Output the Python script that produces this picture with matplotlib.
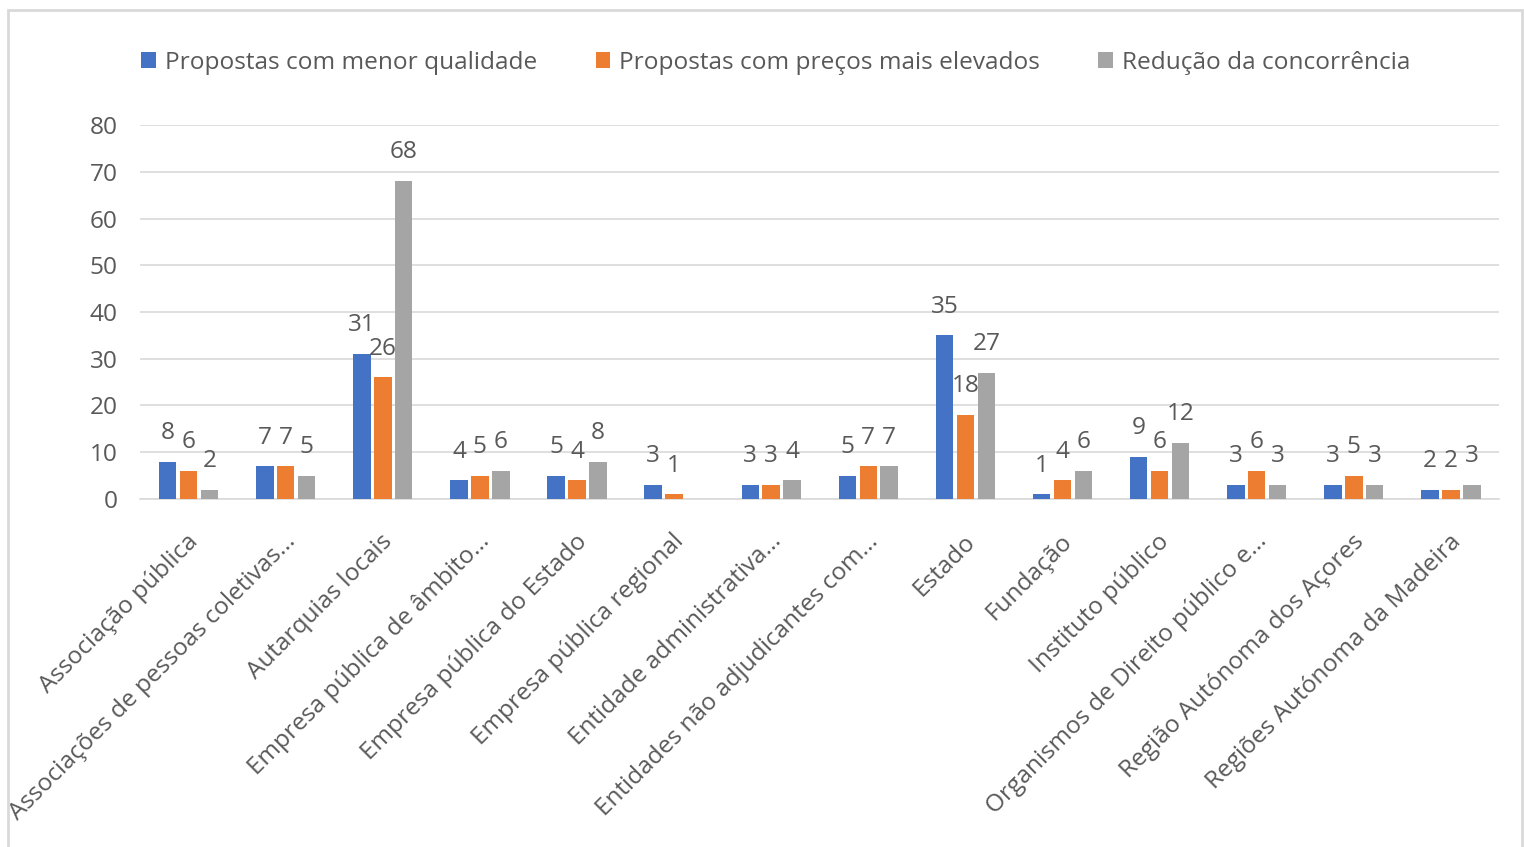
import numpy as np
import matplotlib.pyplot as plt
from matplotlib.patches import Rectangle
import matplotlib.transforms as mtrans

categories = [
    "Associação pública",
    "Associações de pessoas coletivas...",
    "Autarquias locais",
    "Empresa pública de âmbito...",
    "Empresa pública do Estado",
    "Empresa pública regional",
    "Entidade administrativa...",
    "Entidades não adjudicantes com...",
    "Estado",
    "Fundação",
    "Instituto público",
    "Organismos de Direito público e...",
    "Região Autónoma dos Açores",
    "Regiões Autónoma da Madeira",
]
menor_qualidade = [8, 7, 31, 4, 5, 3, 3, 5, 35, 1, 9, 3, 3, 2]
precos_elevados = [6, 7, 26, 5, 4, 1, 3, 7, 18, 4, 6, 6, 5, 2]
reducao_concorrencia = [2, 5, 68, 6, 8, np.nan, 4, 7, 27, 6, 12, 3, 3, 3]

series_names = ["Propostas com menor qualidade",
                "Propostas com preços mais elevados",
                "Redução da concorrência"]
colors = ["#4472C4", "#ED7D31", "#A5A5A5"]

plt.rcParams['font.family'] = ['Open Sans', 'DejaVu Sans']
txt = "#595959"
fs = 17.6

fig = plt.figure(figsize=(15.24, 8.47), dpi=100)
ax = fig.add_axes([0.0919, 0.4109, 0.892, 0.4415])

x = np.arange(len(categories))
w = 0.18
step = 0.215
for i, (vals, name, c) in enumerate(zip([menor_qualidade, precos_elevados, reducao_concorrencia],
                                        series_names, colors)):
    vals = np.array(vals, dtype=float)
    bars = ax.bar(x + (i - 1) * step, np.nan_to_num(vals), w, color=c, label=name, zorder=3)
    labels = ["" if np.isnan(v) else "%d" % v for v in vals]
    ax.bar_label(bars, labels=labels, padding=12, fontsize=fs, color=txt)

ax.set_ylim(0, 80)
ax.set_xlim(-0.5, len(categories) - 0.5)
ax.set_yticks(np.arange(0, 81, 10))
ax.yaxis.grid(True, color="#D9D9D9", linewidth=1.2, zorder=0)
ax.set_axisbelow(True)
for s in ["top", "right", "left"]:
    ax.spines[s].set_visible(False)
ax.spines["bottom"].set_color("#D9D9D9")
ax.spines["bottom"].set_linewidth(1.2)
ax.tick_params(axis="both", length=0, labelsize=fs, colors=txt)
ax.tick_params(axis="y", pad=16)
ax.tick_params(axis="x", pad=22)
ax.set_xticks(x)
ax.set_xticklabels(categories, rotation=45, ha="right", rotation_mode="anchor")
shift = mtrans.ScaledTranslation(-1.5 / 72, 0, fig.dpi_scale_trans)
for lbl in ax.get_xticklabels():
    lbl.set_transform(lbl.get_transform() + shift)

fig.legend(loc="center", bbox_to_anchor=(0.509, 0.926), ncol=3, frameon=False,
           fontsize=fs, labelcolor=txt, handlelength=0.6, handleheight=0.6,
           handletextpad=0.35, columnspacing=2.4)

fig.patches.append(Rectangle((8 / 1524, -0.01), 1514 / 1524, 1 - 10 / 847 + 0.01,
                             transform=fig.transFigure, fill=False,
                             edgecolor="#D9D9D9", linewidth=2))

fig.savefig("out.png", dpi=100)
